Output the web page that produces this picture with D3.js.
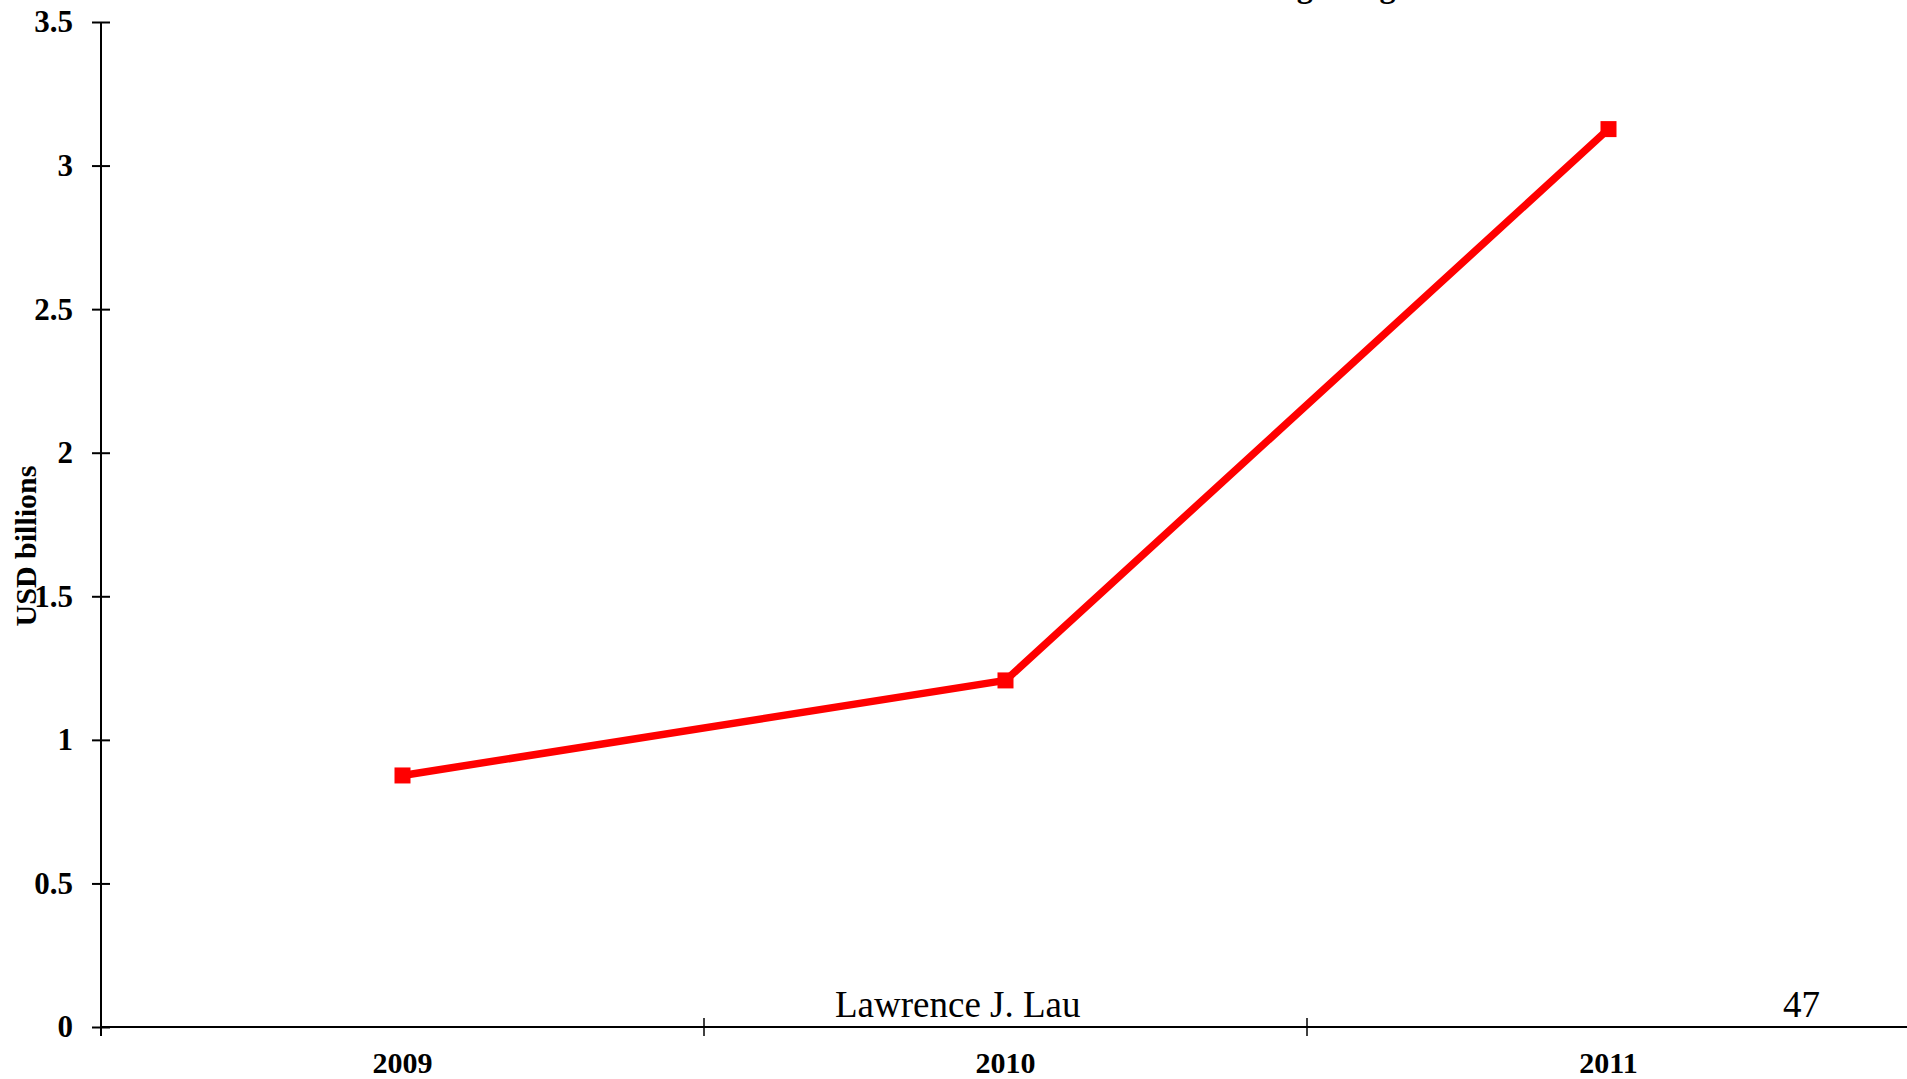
<!DOCTYPE html>
<html>
<head>
<meta charset="utf-8">
<script src="https://cdn.jsdelivr.net/npm/d3@7"></script>
<style>
  html, body { margin: 0; padding: 0; background: #fff; overflow: hidden; }
  svg { display: block; }
</style>
</head>
<body>
<script>
// Yearly values in USD billions
const years = ["2009", "2010", "2011"];
const values = [0.876, 1.207, 3.127];
const yTicks = [0, 0.5, 1, 1.5, 2, 2.5, 3, 3.5];
const yTickLabels = ["0", "0.5", "1", "1.5", "2", "2.5", "3", "3.5"];
const yAxisTitle = "USD billions";
const titleText = "Hong Kong";
const footerAuthor = "Lawrence J. Lau";
const pageNumber = "47";

const W = 1907, H = 1079;
const serif = "'Liberation Serif', 'Times New Roman', serif";

const svg = d3.select("body").append("svg")
  .attr("width", W).attr("height", H);

const x = d3.scaleBand().domain(years).range([101, 1910]).padding(0);
const y = d3.scaleLinear().domain([0, 3.5]).range([1027, 22]);

// Title, sitting mostly above the visible page
svg.append("text")
  .attr("x", 1238).attr("y", -3)
  .attr("font-family", serif).attr("font-weight", "bold")
  .attr("font-size", 32).attr("fill", "#000")
  .text(titleText);

// Y axis with ticks crossing the axis line
const yAxis = svg.append("g")
  .attr("transform", `translate(${x.range()[0]},0)`)
  .call(d3.axisLeft(y).tickValues(yTicks).tickSize(9)
    .tickFormat((d, i) => yTickLabels[i]));
yAxis.select(".domain").remove();
yAxis.append("line")
  .attr("x1", 0).attr("x2", 0)
  .attr("y1", y(3.5)).attr("y2", y(0) + 9)
  .attr("stroke", "#000").attr("stroke-width", 2);
yAxis.selectAll(".tick line")
  .attr("x1", -9).attr("x2", 9)
  .attr("stroke", "#000").attr("stroke-width", 2);
yAxis.selectAll(".tick text")
  .attr("x", -28)
  .attr("font-family", serif).attr("font-weight", "bold")
  .attr("font-size", 31).attr("fill", "#000");

// X axis: line across, ticks at category boundaries
const xAxis = svg.append("g");
xAxis.append("line")
  .attr("x1", x.range()[0]).attr("x2", W + 5)
  .attr("y1", y(0)).attr("y2", y(0))
  .attr("stroke", "#000").attr("stroke-width", 2);
const boundaries = years.slice(1).map(d => x(d));
xAxis.selectAll(".xtick").data(boundaries).join("line")
  .attr("class", "xtick")
  .attr("x1", d => d).attr("x2", d => d)
  .attr("y1", y(0) - 9).attr("y2", y(0) + 9)
  .attr("stroke", "#000").attr("stroke-width", 1.5);
xAxis.selectAll(".xlabel").data(years).join("text")
  .attr("class", "xlabel")
  .attr("x", d => x(d) + x.bandwidth() / 2)
  .attr("y", 1073)
  .attr("text-anchor", "middle")
  .attr("font-family", serif).attr("font-weight", "bold")
  .attr("font-size", 30).attr("fill", "#000")
  .text(d => d);

// Y axis title
svg.append("text")
  .attr("transform", "translate(36,546) rotate(-90)")
  .attr("text-anchor", "middle")
  .attr("font-family", serif).attr("font-weight", "bold")
  .attr("font-size", 30).attr("fill", "#000")
  .text(yAxisTitle);

// Series line and square markers
const cx = d => x(d) + x.bandwidth() / 2;
const pts = years.map((d, i) => [cx(d), y(values[i])]);
svg.append("path")
  .attr("d", d3.line()(pts))
  .attr("fill", "none").attr("stroke", "#ff0000")
  .attr("stroke-width", 7.5).attr("stroke-linejoin", "round");
const ms = 16;
svg.selectAll(".marker").data(pts).join("rect")
  .attr("class", "marker")
  .attr("x", d => d[0] - ms / 2).attr("y", d => d[1] - ms / 2)
  .attr("width", ms).attr("height", ms)
  .attr("fill", "#ff0000");

// Footer text
svg.append("text")
  .attr("x", 835).attr("y", 1017)
  .attr("font-family", serif).attr("font-size", 37).attr("fill", "#000")
  .text(footerAuthor);
svg.append("text")
  .attr("x", 1783).attr("y", 1017)
  .attr("font-family", serif).attr("font-size", 37).attr("fill", "#000")
  .text(pageNumber);
</script>
</body>
</html>
